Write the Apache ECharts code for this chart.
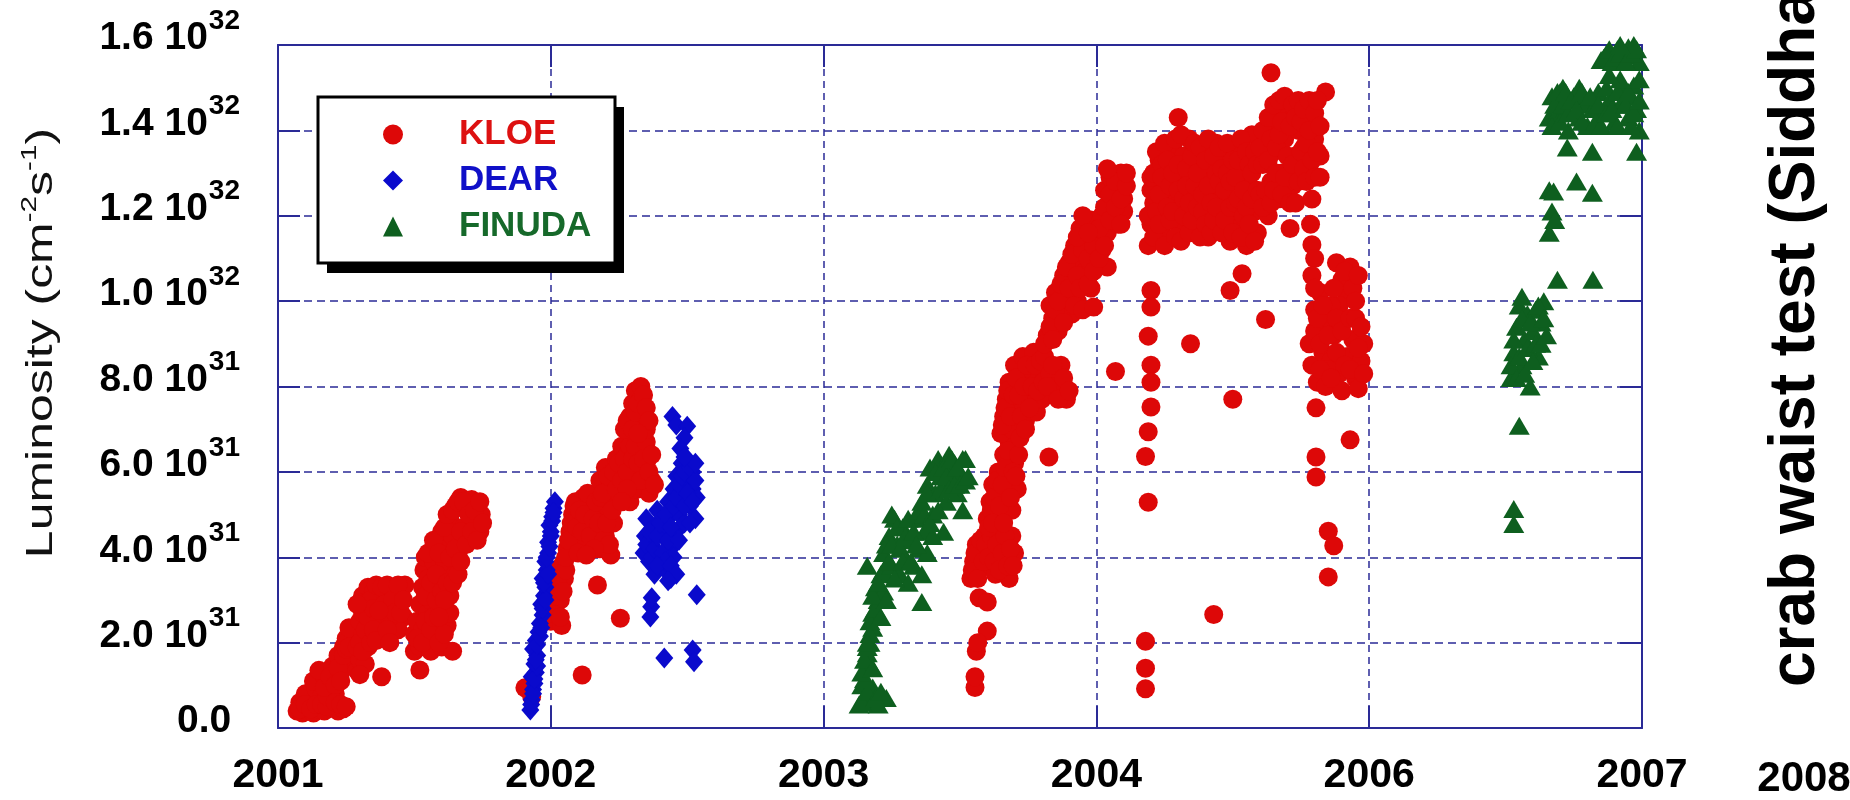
<!DOCTYPE html>
<html><head><meta charset="utf-8">
<script src="https://cdn.jsdelivr.net/npm/echarts@6/dist/echarts.min.js"></script>
<style>html,body{margin:0;padding:0;background:#fff}#c{width:1850px;height:800px}</style>
</head><body><div id="c"></div>
<script>
// x: position in year-interval units (0 = 2001 tick ... 5 = 2007 tick); y: luminosity in units of 1e31 cm^-2 s^-1
const xTickLabels = ['2001', '2002', '2003', '2004', '2006', '2007'];
const yTickMantissa = ['0.0', '2.0', '4.0', '6.0', '8.0', '1.0', '1.2', '1.4', '1.6'];
const yTickExponent = ['', '31', '31', '31', '31', '32', '32', '32', '32'];
const seriesNames = ['KLOE', 'DEAR', 'FINUDA'];

const kloe = [
[0.07,0.4],[0.09,0.35],[0.11,0.4],[0.13,0.35],[0.15,0.45],[0.17,0.4],[0.2,0.5],[0.22,0.4],[0.24,0.45],[0.08,0.6],[0.12,0.65],[0.1,0.8],[0.14,0.9],[0.16,0.75],[0.13,1.1],[0.17,1.2],[0.15,1.35],[0.19,1.0],[0.2,1.45],[0.21,0.8],[0.22,1.7],[0.24,1.9],[0.25,2.1],[0.26,2.35],[0.23,1.3],[0.25,1.6],
[0.08,0.45],[0.1,0.55],[0.12,0.45],[0.14,0.55],[0.16,0.55],[0.18,0.5],[0.18,0.75],[0.17,0.95],[0.19,1.2],[0.21,1.0],[0.22,1.4],[0.23,1.1],[0.24,1.7],[0.25,1.85],[0.26,1.9],[0.21,0.6],[0.23,0.55],[0.25,0.5],
[0.29,1.35],[0.3,1.6],[0.29,1.9],[0.31,2.2],[0.3,2.5],[0.32,2.8],[0.31,3.1],[0.33,3.3],[0.35,3.2],[0.37,3.0],[0.36,2.6],[0.34,2.4],[0.33,1.9],[0.32,1.5],[0.38,2.8],[0.39,3.25],[0.41,3.1],[0.4,2.7],[0.42,2.45],[0.43,3.3],[0.44,2.9],[0.45,3.2],[0.46,2.6],[0.465,3.35],[0.44,2.3],[0.38,1.2],[0.39,2.1],
[0.3,2.0],[0.31,2.7],[0.32,2.3],[0.33,2.6],[0.34,3.0],[0.35,2.8],[0.36,3.35],[0.37,2.5],[0.38,3.3],[0.39,2.9],[0.4,3.35],[0.41,2.6],[0.42,3.0],[0.43,2.7],[0.44,3.35],[0.45,2.7],[0.46,3.0],[0.3,1.25],[0.31,1.8],[0.29,2.9],[0.34,2.0],[0.35,2.3],[0.36,2.05],[0.37,2.75],[0.4,2.3],[0.41,2.0],
[0.5,1.8],[0.5,2.2],[0.51,2.5],[0.52,1.9],[0.52,2.9],[0.53,3.3],[0.53,2.3],[0.535,3.7],[0.54,4.0],[0.55,2.7],[0.55,3.5],[0.56,1.8],[0.56,3.0],[0.57,3.9],[0.58,2.2],[0.58,4.3],[0.59,3.4],[0.6,1.9],[0.6,2.7],[0.6,4.6],[0.61,3.8],[0.62,4.2],[0.62,2.4],[0.63,4.9],[0.63,3.1],[0.64,1.8],[0.64,4.5],[0.65,3.6],[0.65,5.2],[0.66,4.1],[0.67,5.4],[0.68,4.7],[0.69,5.1],[0.7,4.4],[0.71,5.35],[0.72,4.8],[0.73,5.2],[0.74,4.6],[0.745,5.0],[0.52,1.36],
[0.51,2.1],[0.53,2.0],[0.54,2.5],[0.54,3.1],[0.55,4.1],[0.56,2.3],[0.56,3.4],[0.57,2.6],[0.57,4.4],[0.58,3.0],[0.58,3.6],[0.59,2.0],[0.59,4.1],[0.6,3.2],[0.61,2.2],[0.61,4.7],[0.62,3.4],[0.62,5.0],[0.63,2.7],[0.63,4.0],[0.64,3.4],[0.64,5.1],[0.65,4.2],[0.66,3.6],[0.66,5.3],[0.67,4.6],[0.68,5.3],[0.69,4.3],[0.7,5.0],[0.71,4.6],[0.72,5.1],[0.73,4.4],[0.74,5.3],[0.75,4.8],[0.67,3.9],[0.61,3.0],[0.59,2.6],
[0.905,0.94],[0.93,0.73],
[1.0,2.5],[1.01,2.9],[1.02,3.3],[1.03,3.7],[1.04,2.4],[1.035,3.0],[1.05,3.5],[1.05,3.9],
[1.005,2.7],[1.015,3.1],[1.025,3.5],[1.035,2.6],[1.045,3.2],[1.04,3.8],[1.055,3.7],
[1.06,4.2],[1.07,4.6],[1.08,5.0],[1.09,5.3],[1.1,4.4],[1.11,4.9],[1.12,5.4],[1.13,4.3],[1.14,4.8],[1.15,5.2],[1.16,4.6],[1.17,5.5],[1.18,4.2],[1.19,5.0],[1.2,4.5],[1.21,5.3],[1.22,4.05],[1.23,4.8],
[1.055,4.0],[1.065,4.4],[1.075,4.8],[1.085,5.2],[1.095,4.7],[1.105,5.1],[1.115,4.6],[1.125,5.0],[1.135,5.5],[1.145,4.5],[1.155,4.9],[1.165,5.3],[1.175,4.8],[1.185,5.4],[1.195,4.4],[1.205,4.8],[1.215,4.3],[1.225,5.1],[1.1,4.1],[1.16,4.2],[1.13,4.05],
[1.18,5.8],[1.2,6.1],[1.22,5.7],[1.24,6.3],[1.25,5.5],[1.26,6.6],[1.27,5.9],[1.28,6.4],[1.29,5.3],[1.3,6.8],[1.31,6.0],[1.32,5.6],[1.33,6.5],[1.34,5.9],[1.35,6.2],[1.36,5.5],[1.37,5.8],
[1.19,5.5],[1.21,5.9],[1.23,6.0],[1.24,5.6],[1.25,6.2],[1.26,5.8],[1.27,6.3],[1.28,6.0],[1.29,6.6],[1.3,5.6],[1.3,6.3],[1.31,6.6],[1.32,6.2],[1.33,5.8],[1.34,6.3],[1.35,6.7],[1.36,6.0],[1.37,6.4],[1.38,5.7],[1.28,5.6],[1.26,5.3],
[1.27,7.0],[1.29,7.3],[1.3,7.6],[1.31,7.9],[1.32,7.2],[1.33,7.7],[1.34,7.4],[1.35,7.0],[1.33,8.0],
[1.28,7.2],[1.3,7.0],[1.31,7.4],[1.32,7.6],[1.34,7.8],[1.35,7.5],[1.36,7.2],[1.32,6.9],
[1.171,3.35],[1.255,2.57],[1.115,1.24],
[2.555,0.95],[2.555,1.2],[2.56,1.8],[2.6,2.27],[2.57,3.05],[2.6,2.95],[2.565,2.0],
[2.54,3.5],[2.55,3.9],[2.56,4.3],[2.57,3.7],[2.58,4.1],[2.59,4.5],[2.6,3.8],[2.61,4.2],[2.62,4.6],[2.63,3.6],[2.64,4.0],[2.65,4.4],[2.66,3.9],[2.67,4.3],[2.68,3.5],[2.69,4.5],[2.7,4.1],
[2.545,3.7],[2.555,4.1],[2.565,3.5],[2.575,4.4],[2.585,3.9],[2.595,4.3],[2.605,4.0],[2.615,4.5],[2.625,3.9],[2.635,4.3],[2.645,3.7],[2.655,4.1],[2.665,4.5],[2.675,3.8],[2.685,4.2],[2.695,3.8],
[2.6,4.9],[2.61,5.3],[2.62,5.7],[2.63,5.0],[2.64,6.0],[2.65,5.4],[2.66,6.4],[2.67,5.8],[2.68,6.7],[2.69,5.1],[2.7,6.2],[2.71,5.6],
[2.605,4.7],[2.615,5.1],[2.625,5.4],[2.635,5.8],[2.645,5.2],[2.655,5.7],[2.665,6.1],[2.675,6.5],[2.685,5.4],[2.695,6.0],[2.705,5.9],[2.715,6.4],[2.62,4.8],[2.66,4.8],
[2.65,6.9],[2.66,7.3],[2.67,7.7],[2.68,8.1],[2.69,7.0],[2.7,8.5],[2.71,7.5],[2.72,8.0],[2.73,8.7],[2.74,7.2],[2.75,7.8],[2.76,8.3],[2.77,8.8],[2.78,7.4],[2.79,8.2],[2.8,7.7],
[2.655,7.1],[2.665,7.5],[2.675,7.9],[2.685,7.3],[2.695,7.8],[2.705,8.2],[2.715,7.8],[2.725,7.3],[2.735,8.0],[2.745,8.5],[2.755,7.5],[2.765,8.0],[2.775,8.5],[2.785,7.9],[2.795,8.6],[2.805,8.1],[2.81,8.7],[2.83,8.3],[2.85,8.0],[2.87,8.5],[2.89,7.7],[2.72,6.8],[2.74,7.0],
[2.82,8.0],[2.84,8.5],[2.86,7.7],[2.88,8.2],[2.9,7.9],[2.826,6.35],
[2.82,9.2],[2.84,9.6],[2.86,9.3],[2.83,9.9],[2.85,10.2],[2.87,9.8],[2.89,10.1],[2.91,9.7],[2.93,10.0],[2.88,10.6],[2.9,10.9],[2.92,10.5],[2.94,11.0],[2.96,10.7],[2.98,10.3],[3.0,10.9],[3.02,11.2],[2.92,11.3],[2.94,11.7],[2.96,11.4],[2.98,11.9],[3.0,11.5],[3.02,12.0],[3.04,11.6],[3.06,12.2],[3.08,11.8],[3.1,12.4],[3.03,12.6],[3.05,12.9],[3.07,12.5],[3.09,13.0],[3.1,12.1],[3.04,10.8],
[2.81,9.0],[2.83,9.4],[2.85,9.8],[2.84,9.1],[2.86,10.0],[2.88,9.5],[2.87,10.4],[2.9,10.3],[2.89,10.8],[2.91,11.1],[2.92,9.9],[2.93,10.6],[2.94,10.3],[2.95,11.2],[2.95,9.8],[2.97,11.0],[2.97,10.4],[2.99,11.3],[2.99,10.7],[3.01,11.7],[3.01,11.0],[3.03,11.3],[3.03,12.2],[3.05,11.9],[3.05,12.5],[3.07,12.2],[3.07,12.8],[3.09,12.4],[3.09,11.8],[3.11,12.7],[3.11,13.0],[3.04,13.1],[2.93,11.5],[2.95,12.0],[2.97,11.6],
[2.99,9.86],[3.07,8.35],
[3.2,10.25],[3.2,9.86],[3.19,9.18],[3.2,8.5],[3.2,8.1],[3.2,7.52],[3.19,6.94],[3.18,6.36],[3.19,5.29],[3.18,2.03],[3.18,1.4],[3.18,0.92],
[3.19,11.3],[3.2,11.8],[3.21,12.3],[3.22,12.8],[3.23,13.3],[3.2,12.6],
[3.24,11.6],[3.25,12.1],[3.26,12.6],[3.27,13.1],[3.28,13.6],[3.29,12.3],[3.3,14.3],[3.3,11.8],[3.31,12.9],[3.32,13.4],[3.33,12.0],[3.34,13.8],[3.35,12.5],[3.36,13.2],[3.37,11.7],[3.38,12.8],[3.39,13.5],
[3.4,12.2],[3.41,11.5],[3.42,13.0],[3.43,12.6],[3.44,13.7],[3.45,11.9],[3.46,12.4],[3.47,13.3],[3.48,12.0],[3.49,11.4],[3.5,12.8],[3.51,13.6],[3.52,11.8],[3.53,12.3],[3.54,13.1],[3.55,11.3],[3.56,12.7],[3.57,13.9],[3.58,12.1],[3.59,11.6],
[3.19,12.0],[3.2,12.9],[3.21,11.5],[3.21,13.0],[3.22,12.1],[3.22,13.5],[3.23,11.8],[3.23,12.5],[3.24,13.2],[3.24,12.9],[3.25,11.3],[3.25,13.7],[3.26,12.2],[3.26,13.3],[3.27,11.9],[3.27,12.7],[3.28,12.1],[3.28,13.0],[3.29,13.8],[3.29,11.5],[3.3,12.6],[3.3,13.2],[3.31,11.4],[3.31,13.9],[3.32,12.4],[3.32,12.0],[3.33,13.1],[3.33,12.7],[3.34,11.6],[3.34,12.3],[3.35,13.4],[3.35,11.9],[3.36,12.7],[3.36,13.7],[3.37,12.2],[3.37,13.0],[3.38,11.5],[3.38,13.6],[3.39,12.1],[3.39,12.5],[3.4,11.8],[3.4,13.3],[3.41,12.7],[3.41,13.8],[3.42,11.6],[3.42,12.3],[3.43,13.4],[3.43,11.9],[3.44,12.2],[3.44,13.0],[3.45,12.8],[3.45,13.6],[3.46,11.6],[3.46,13.1],[3.47,12.6],[3.47,11.9],[3.48,13.0],[3.48,13.7],[3.49,12.2],[3.49,12.8],[3.5,11.6],[3.5,13.3],[3.51,12.3],[3.51,12.9],[3.52,13.3],[3.52,12.4],[3.53,11.5],[3.53,13.8],[3.54,12.0],[3.54,12.6],[3.55,13.5],[3.55,12.2],[3.56,11.8],[3.56,13.2],[3.57,12.4],[3.57,13.0],[3.58,11.4],[3.58,13.5],[3.59,12.6],[3.59,13.2],
[3.345,9.0],[3.43,2.66],[3.5,7.7],[3.49,10.25],[3.534,10.64],[3.62,9.57],
[3.6,12.5],[3.61,13.2],[3.62,13.9],[3.63,12.0],[3.64,12.8],[3.65,13.5],[3.66,14.2],[3.64,15.35],[3.67,12.4],[3.68,13.0],[3.69,13.8],[3.7,14.4],[3.71,11.7],[3.72,12.7],[3.73,13.4],[3.74,14.0],[3.75,12.9],[3.76,13.6],[3.77,14.3],[3.78,13.1],[3.79,14.6],[3.8,13.8],[3.81,14.1],[3.82,13.4],[3.7,12.78],[3.84,14.9],
[3.6,13.6],[3.61,12.2],[3.61,14.0],[3.62,12.6],[3.63,13.3],[3.63,14.3],[3.64,12.3],[3.64,13.8],[3.65,12.6],[3.65,14.6],[3.66,13.0],[3.66,13.6],[3.67,13.9],[3.67,14.7],[3.68,12.5],[3.68,14.2],[3.69,12.9],[3.69,14.8],[3.7,13.4],[3.71,12.3],[3.71,14.1],[3.72,13.2],[3.72,14.6],[3.73,12.3],[3.73,14.3],[3.74,12.8],[3.74,14.7],[3.75,13.5],[3.75,14.2],[3.76,13.1],[3.76,14.5],[3.77,13.7],[3.77,12.8],[3.78,14.0],[3.78,14.7],[3.79,13.3],[3.8,14.4],[3.81,13.5],[3.81,14.7],[3.82,14.1],[3.8,12.9],[3.82,12.9],
[3.79,12.39],[3.785,11.8],[3.79,11.32],[3.8,11.0],
[3.88,10.9],[3.9,10.5],[3.92,10.1],[3.93,10.8],[3.89,9.9],[3.94,10.3],
[3.8,9.8],[3.82,10.2],[3.84,9.5],[3.86,9.9],
[3.78,9.0],[3.79,8.5],[3.8,9.3],[3.81,8.1],[3.83,8.8],[3.84,8.0],[3.86,8.6],[3.87,9.2],[3.89,8.3],[3.9,7.9],[3.92,8.7],[3.94,9.1],[3.95,8.2],[3.97,8.6],[3.98,9.0],[3.96,7.95],
[3.79,10.6],[3.8,10.3],[3.81,9.6],[3.82,9.0],[3.83,9.9],[3.85,9.2],[3.85,8.4],[3.87,10.3],[3.88,8.8],[3.88,9.6],[3.9,9.3],[3.91,8.5],[3.91,10.7],[3.93,9.6],[3.93,8.4],[3.95,9.6],[3.95,10.0],[3.96,8.9],[3.97,9.4],[3.98,8.3],[3.96,10.6],[3.82,8.4],[3.86,8.2],
[3.805,7.5],[3.805,6.35],[3.805,5.88],[3.85,4.61],[3.87,4.27],[3.85,3.54],[3.93,6.75]
];

const dear = [
[0.925,0.42],[0.93,0.66],[0.935,0.9],[0.94,1.04],[0.93,1.2],[0.945,1.3],[0.94,1.5],[0.95,1.7],[0.935,1.85],[0.945,2.05],[0.955,2.25],[0.96,2.45],[0.97,2.65],[0.965,2.9],[0.975,3.1],[0.98,3.3],[0.97,3.5],[0.985,3.7],[0.98,3.9],[0.99,4.1],[0.99,4.35],[1.0,4.5],[0.995,4.75],[1.005,4.95],[1.01,5.15],[1.015,5.3],
[0.928,0.55],[0.935,0.8],[0.94,1.15],[0.95,1.45],[0.945,1.6],[0.95,1.95],[0.96,2.15],[0.965,2.35],[0.97,2.8],[0.98,3.0],[0.975,3.4],[0.99,3.6],[0.985,4.0],[0.995,4.25],[1.0,4.6],[1.005,4.85],[1.01,5.05],
[1.34,4.1],[1.345,4.5],[1.35,4.9],[1.36,3.9],[1.37,4.3],[1.38,4.7],[1.38,3.6],[1.39,5.1],[1.4,4.0],[1.41,4.5],[1.42,3.7],[1.43,4.9],[1.43,5.3],[1.44,4.2],[1.44,3.5],[1.45,5.6],[1.46,4.6],[1.46,5.9],[1.47,5.0],[1.48,6.2],[1.48,5.4],[1.49,4.8],[1.5,5.8],[1.5,6.3],[1.51,5.2],[1.52,5.6],[1.52,6.0],[1.53,4.9],[1.535,5.4],
[1.35,4.3],[1.36,4.6],[1.37,4.0],[1.38,4.2],[1.39,4.5],[1.4,4.8],[1.41,4.1],[1.42,5.0],[1.43,4.4],[1.44,4.7],[1.45,4.0],[1.45,5.2],[1.46,5.4],[1.47,5.7],[1.47,4.4],[1.48,5.9],[1.49,5.2],[1.49,6.0],[1.5,5.5],[1.51,6.1],[1.51,4.8],[1.52,5.3],[1.53,5.8],[1.53,6.2],[1.42,3.9],[1.39,3.8],[1.44,3.8],[1.46,3.6],
[1.446,7.3],[1.46,7.1],[1.5,7.07],[1.49,6.8],[1.475,6.55],[1.49,6.35],
[1.368,2.84],[1.365,2.6],[1.37,3.05],[1.416,1.64],[1.52,1.83],[1.525,1.55],[1.535,3.12],[1.43,3.45]
];

const finuda = [
[2.13,0.55],[2.15,0.75],[2.17,0.6],[2.2,0.55],[2.23,0.7],[2.14,1.0],[2.18,0.95],
[2.14,0.6],[2.16,0.85],[2.19,0.7],[2.21,0.85],[2.15,1.15],[2.17,1.5],[2.16,1.75],[2.17,2.0],[2.18,2.35],[2.18,2.7],[2.19,3.3],[2.2,3.0],[2.21,3.6],[2.22,3.2],
[2.14,1.3],[2.15,1.6],[2.16,1.9],[2.18,1.4],[2.17,2.2],
[2.17,2.5],[2.19,2.8],[2.18,3.1],[2.2,3.4],[2.21,2.6],[2.22,3.7],[2.23,3.0],[2.16,2.0],[2.16,3.8],
[2.22,4.1],[2.24,4.5],[2.25,3.8],[2.26,4.9],[2.27,4.3],[2.28,3.6],[2.29,4.7],[2.3,4.0],[2.31,3.4],[2.32,4.4],[2.33,3.8],[2.34,4.9],[2.35,4.2],[2.36,3.6],[2.37,4.6],[2.38,4.1],[2.25,5.0],
[2.23,4.3],[2.24,3.9],[2.25,4.3],[2.26,3.5],[2.27,4.7],[2.28,4.2],[2.29,3.9],[2.3,4.5],[2.31,4.9],[2.32,3.9],[2.33,4.6],[2.34,4.3],[2.35,5.1],[2.37,5.0],
[2.36,5.3],[2.38,5.7],[2.39,6.1],[2.4,5.0],[2.41,5.5],[2.42,6.3],[2.43,5.9],[2.44,4.6],[2.45,5.3],[2.46,6.4],[2.47,5.8],[2.48,6.2],[2.49,5.5],[2.5,6.0],[2.51,5.1],[2.52,6.3],[2.4,4.5],
[2.38,5.5],[2.39,4.8],[2.41,6.0],[2.42,5.1],[2.43,5.6],[2.44,6.1],[2.45,5.9],[2.46,5.6],[2.47,6.3],[2.48,5.7],[2.49,6.1],[2.5,5.7],[2.51,6.3],[2.52,5.8],[2.53,5.9],
[2.36,2.95],
[4.53,4.78],[4.53,5.13],[4.55,7.08],
[4.52,8.2],[4.53,8.8],[4.54,9.4],[4.55,9.9],[4.56,8.5],[4.57,9.1],[4.58,9.7],[4.59,8.0],[4.6,9.3],[4.61,9.8],[4.62,8.7],[4.63,9.5],[4.64,10.0],[4.56,10.1],
[4.52,8.5],[4.53,9.1],[4.54,8.2],[4.55,8.7],[4.56,9.6],[4.57,8.3],[4.58,8.9],[4.59,9.5],[4.6,8.6],[4.61,9.0],[4.62,9.9],[4.63,9.0],[4.64,9.6],[4.65,9.2],
[4.66,11.6],[4.67,12.1],[4.66,12.6],[4.68,11.9],[4.69,10.5],[4.76,12.8],[4.82,10.5],[4.676,12.57],[4.818,12.54],[4.726,13.6],[4.818,13.5],[4.98,13.5],
[4.66,14.3],[4.67,14.8],[4.69,14.4],[4.7,14.9],[4.72,14.5],[4.73,14.0],[4.75,14.8],[4.77,14.3],[4.79,14.6],[4.8,14.1],[4.82,14.5],[4.84,14.9],[4.86,14.4],[4.88,14.7],[4.9,14.2],[4.92,14.6],[4.93,15.0],[4.95,14.3],[4.96,14.8],[4.98,14.5],[4.99,14.0],[4.97,15.05],[4.71,15.0],[4.77,15.0],
[4.67,14.1],[4.68,14.6],[4.69,14.9],[4.7,14.2],[4.71,14.6],[4.72,14.9],[4.73,14.4],[4.74,14.7],[4.76,14.5],[4.78,14.9],[4.78,14.2],[4.81,14.8],[4.83,14.2],[4.84,14.6],[4.85,14.1],[4.87,14.4],[4.87,15.0],[4.89,14.5],[4.91,14.9],[4.91,14.1],[4.94,14.6],[4.95,14.9],[4.96,14.1],[4.97,14.4],[4.99,14.7],[4.99,15.2],[4.92,15.2],[4.88,15.3],
[4.85,15.65],[4.87,15.8],[4.89,15.6],[4.91,15.9],[4.93,15.7],[4.95,15.95],[4.97,15.75],[4.99,15.6],
[4.86,15.7],[4.88,15.9],[4.9,15.7],[4.92,15.8],[4.94,15.6],[4.96,15.8],[4.98,15.9],[4.97,16.0],[4.92,16.0]
];

const AX = '#2a2a96';
const FONT = 'Liberation Sans, Arial, sans-serif';
const chart = echarts.init(document.getElementById('c'), null, {renderer: 'canvas'});

const frameAxis = (extra) => Object.assign({
  type: 'value',
  axisLine: {show: true, onZero: false, lineStyle: {color: AX, width: 2}},
  axisTick: {show: true, inside: true, length: 22, lineStyle: {color: AX, width: 2}},
  axisLabel: {show: false},
  splitLine: {show: false}
}, extra);

const option = {
  animation: false,
  backgroundColor: '#fff',
  grid: {left: 278, top: 45, right: 208, bottom: 72, containLabel: false},
  xAxis: [
    frameAxis({min: 0, max: 5, interval: 1, position: 'bottom',
      axisLabel: {show: true, formatter: (v) => xTickLabels[Math.round(v)], fontSize: 41, fontWeight: 'bold', color: '#000', fontFamily: FONT, margin: 27},
      splitLine: {show: true, showMinLine: false, showMaxLine: false, lineStyle: {color: AX, width: 1.5, type: [7, 5]}}}),
    frameAxis({min: 0, max: 5, interval: 1, position: 'top'})
  ],
  yAxis: [
    frameAxis({min: 0, max: 16, interval: 2, position: 'left',
      axisLabel: {show: true, margin: 38, color: '#000',
        formatter: (v) => { const i = Math.round(v / 2); return yTickExponent[i] ? '{m|' + yTickMantissa[i] + ' 10}{s|' + yTickExponent[i] + '}' : '{m|' + yTickMantissa[i] + '}{s| }'; },
        rich: {
          m: {fontSize: 39, fontWeight: 'bold', fontFamily: FONT, color: '#000', verticalAlign: 'bottom', padding: [0, 0, 25, 0]},
          s: {fontSize: 28, fontWeight: 'bold', fontFamily: FONT, color: '#000', verticalAlign: 'bottom', padding: [0, 0, 48, 1]}
        }},
      splitLine: {show: true, showMinLine: false, showMaxLine: false, lineStyle: {color: AX, width: 1.5, type: [8, 5]}}}),
    frameAxis({min: 0, max: 16, interval: 2, position: 'right'})
  ],
  legend: {
    orient: 'vertical', left: 318, top: 97, z: 10,
    padding: [20, 22, 17, 65], itemGap: 11, itemWidth: 20, itemHeight: 20,
    textStyle: {fontSize: 35, fontWeight: 'bold', fontFamily: FONT, padding: [0, 0, 0, 51], lineHeight: 35},
    data: [
      {name: seriesNames[0], icon: 'circle', textStyle: {color: '#dd1111'}},
      {name: seriesNames[1], icon: 'diamond', textStyle: {color: '#1010c8'}},
      {name: seriesNames[2], icon: 'triangle', textStyle: {color: '#16692a'}}
    ]
  },
  series: [
    {name: seriesNames[0], type: 'scatter', data: kloe, symbol: 'circle', symbolSize: 19, itemStyle: {color: '#dd0808', opacity: 1}},
    {name: seriesNames[1], type: 'scatter', data: dear, symbol: 'diamond', symbolSize: [18, 21], itemStyle: {color: '#0a0acc', opacity: 1}},
    {name: seriesNames[2], type: 'scatter', data: finuda, symbol: 'triangle', symbolSize: [21, 18], itemStyle: {color: '#0e5f1f', opacity: 1}}
  ],
  graphic: [
    {type: 'rect', z: 8, shape: {x: 327, y: 107, width: 297, height: 166}, style: {fill: '#000'}},
    {type: 'rect', z: 9, shape: {x: 318, y: 97, width: 297, height: 166}, style: {fill: '#fff', stroke: '#000', lineWidth: 3}},
    {type: 'text', x: 42, y: 343, rotation: Math.PI / 2, scaleX: 1.35,
      style: {text: '{a|Luminosity (cm}{b|-2}{a|s}{b|-1}{a|)}', align: 'center', verticalAlign: 'middle', textAlign: 'center', textVerticalAlign: 'middle',
        rich: {
          a: {fontSize: 37, fontFamily: FONT, fill: '#111', color: '#111', lineHeight: 37, verticalAlign: 'bottom'},
          b: {fontSize: 22, fontFamily: FONT, fill: '#111', color: '#111', lineHeight: 22, verticalAlign: 'bottom', padding: [0, 0, 20, 0]}
        }}},
    {type: 'text', x: 1796, y: 687, rotation: Math.PI / 2,
      style: {text: 'crab waist test (Siddha', font: 'bold 64px ' + FONT, fill: '#000', align: 'left', verticalAlign: 'middle', textAlign: 'left', textVerticalAlign: 'middle'}},
    {type: 'text', x: 1804, y: 779,
      style: {text: '2008', font: 'bold 42px ' + FONT, fill: '#000', align: 'center', verticalAlign: 'middle', textAlign: 'center', textVerticalAlign: 'middle'}}
  ]
};
chart.setOption(option);
</script>
</body></html>
